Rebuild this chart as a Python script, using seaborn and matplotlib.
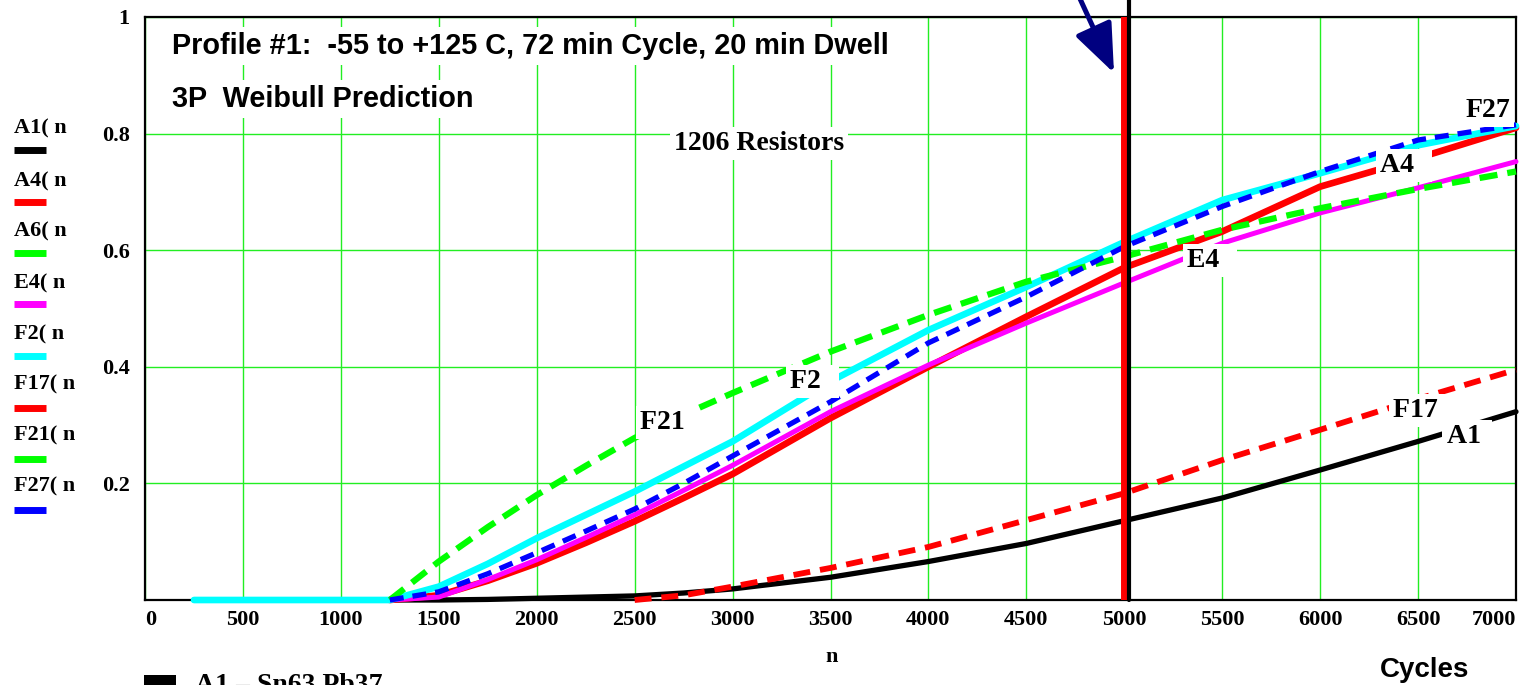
import numpy as np
import pandas as pd
import matplotlib
matplotlib.use("Agg")
import matplotlib.pyplot as plt
from matplotlib.lines import Line2D
from matplotlib.patches import Rectangle
import seaborn as sns

# ---------------- data ----------------
cycles = [250, 1250, 1500, 1750, 2000, 2250, 2500, 2750, 3000, 3500, 4000, 4500, 5000, 5500, 6000, 6500, 7000]
nan = np.nan
a1 = [nan, 0.000, 0.000, 0.001, 0.003, 0.005, 0.007, 0.012, 0.019, 0.039, 0.066, 0.097, 0.136, 0.175, 0.223, 0.272, 0.323]
a4 = [nan, 0.000, 0.008, 0.033, 0.063, 0.098, 0.135, 0.175, 0.216, 0.312, 0.400, 0.486, 0.570, 0.632, 0.709, 0.758, 0.810]
a6 = [nan] * 17  # listed in the legend, no visible curve
e4 = [nan, 0.000, 0.005, 0.035, 0.069, 0.107, 0.146, 0.188, 0.231, 0.323, 0.403, 0.475, 0.544, 0.612, 0.664, 0.707, 0.752]
f2 = [0.000, 0.000, 0.023, 0.062, 0.106, 0.146, 0.186, 0.229, 0.272, 0.375, 0.463, 0.537, 0.614, 0.686, 0.732, 0.780, 0.813]
f17 = [nan, nan, nan, nan, nan, nan, 0.000, 0.008, 0.023, 0.055, 0.091, 0.137, 0.183, 0.240, 0.292, 0.345, 0.395]
f21 = [nan, 0.000, 0.066, 0.125, 0.180, 0.230, 0.278, 0.318, 0.355, 0.426, 0.489, 0.546, 0.589, 0.635, 0.672, 0.705, 0.735]
f27 = [nan, 0.000, 0.014, 0.045, 0.081, 0.118, 0.156, 0.200, 0.247, 0.340, 0.441, 0.520, 0.606, 0.675, 0.735, 0.789, 0.815]

series_names = ["A1", "A4", "A6", "E4", "F2", "F17", "F21", "F27"]
series_values = [a1, a4, a6, e4, f2, f17, f21, f27]
legend_labels = ["A1( n", "A4( n", "A6( n", "E4( n", "F2( n", "F17( n", "F21( n", "F27( n"]

x_ticks = [0, 500, 1000, 1500, 2000, 2500, 3000, 3500, 4000, 4500, 5000, 5500, 6000, 6500, 7000]
y_ticks = [0.2, 0.4, 0.6, 0.8, 1.0]
y_tick_labels = ["0.2", "0.4", "0.6", "0.8", "1"]

curve_label_text = ["F27", "A4  ", "E4  ", "F2  ", "F21 ", "F17 ", "A1 "]
curve_label_x = [6742, 6306, 5319, 3293, 2527, 6372, 6646]
curve_label_y = [0.8285, 0.7346, 0.5717, 0.3636, 0.2933, 0.3144, 0.2693]

marker_cycle_red = 5000
marker_cycle_black = 5025

# ---------------- style ----------------
colors = ["#000000", "#ff0000", "#00ff00", "#ff00ff", "#00ffff", "#ff0000", "#00ff00", "#0000ff"]
widths = [3.8, 4.8, 4.8, 3.6, 4.8, 4.2, 4.5, 3.8]
dashes = [None, None, None, None, None, (2.9, 1.7), (2.9, 1.6), (2.65, 1.7)]

W, H = 1524, 685
DPI = 100

sns.set_style("white")
plt.rcParams["font.family"] = ["Liberation Serif", "DejaVu Serif"]
plt.rcParams["font.weight"] = "bold"
for key in ("text.color", "axes.labelcolor", "xtick.color", "ytick.color"):
    plt.rcParams[key] = "black"

fig = plt.figure(figsize=(W / DPI, H / DPI), dpi=DPI)
ax = fig.add_axes([145 / W, (H - 600) / H, (1516 - 145) / W, 583 / H])


def fp(px, py):
    return px / W, 1 - py / H


for name, vals, c, lw, dsh in zip(series_names, series_values, colors, widths, dashes):
    d = pd.DataFrame({"cycles": cycles, "frac": vals}).dropna()
    if d.empty:
        continue
    sns.lineplot(data=d, x="cycles", y="frac", ax=ax, color=c, lw=lw,
                 estimator=None, sort=False, clip_on=False, zorder=3)
    ln = ax.lines[-1]
    if dsh is not None:
        ln.set_dashes(dsh)
        ln.set_dash_capstyle("butt")

# vertical markers
ax.axvline(marker_cycle_red, ymin=0, ymax=1, color="#ff0000", lw=5, zorder=4)
ax.axvline(marker_cycle_black, ymin=0, ymax=1.06, color="#000000", lw=3, zorder=4, clip_on=False)

ax.set_xlim(0, 7000)
ax.set_ylim(0, 1)
ax.set_xticks(x_ticks)
ax.set_xticklabels([str(v) for v in x_ticks])
ax.set_yticks(y_ticks)
ax.set_yticklabels(y_tick_labels)
ax.set_xlabel("")
ax.set_ylabel("")
ax.grid(True, color="#22ee22", lw=1.0)
ax.set_axisbelow(True)
ax.tick_params(axis="both", length=0, labelsize=16, labelcolor="black")
ax.tick_params(axis="x", pad=7)
ax.tick_params(axis="y", pad=11)
for lab in ax.get_xticklabels() + ax.get_yticklabels():
    lab.set_fontweight("bold")
xl = ax.get_xticklabels()
xl[0].set_ha("left")
xl[-1].set_ha("right")
for s in ax.spines.values():
    s.set_visible(True)
    s.set_color("black")
    s.set_linewidth(1.6)

# curve labels
for t, x, y in zip(curve_label_text, curve_label_x, curve_label_y):
    ax.text(x, y, t, fontsize=20, fontweight="bold", ha="left", va="baseline", color="black",
            bbox=dict(fc="white", ec="none", pad=3), zorder=10)

# titles in the plot area
fig.text(*fp(172, 54), "Profile #1:  -55 to +125 C, 72 min Cycle, 20 min Dwell",
         family="Liberation Sans", fontweight="bold", fontsize=20.8, va="baseline",
         bbox=dict(fc="white", ec="none", pad=4))
fig.text(*fp(172, 107), "3P  Weibull Prediction",
         family="Liberation Sans", fontweight="bold", fontsize=20.8, va="baseline",
         bbox=dict(fc="white", ec="none", pad=4))
fig.text(*fp(674, 150), "1206 Resistors", fontsize=20, fontweight="bold", va="baseline",
         bbox=dict(fc="white", ec="none", pad=3))

# arrow pointing at the marker line
ax.annotate("", xy=(1114, H - 73), xycoords="figure pixels",
            xytext=(1076, H + 10), textcoords="figure pixels",
            arrowprops=dict(arrowstyle="-|>,head_length=0.6,head_width=0.24",
                            mutation_scale=50, color="#000080", lw=3.6,
                            shrinkA=0, shrinkB=0),
            annotation_clip=False)

# white block partly hiding the lower y tick labels (as in the reference)
fig.add_artist(Rectangle(fp(0, 500), 104 / W, 148 / H, transform=fig.transFigure,
                         fc="white", ec="none", zorder=2))

# left-side legend (text above the line sample)
text_base = [133.8, 186.4, 236.8, 288.2, 339.0, 389.5, 440.8, 491.2]
sample_y = [150.4, 201.8, 253.0, 304.0, 355.7, 408.0, 458.8, 509.6]
for lab, tb, sy, c, lw, dsh in zip(legend_labels, text_base, sample_y, colors, widths, dashes):
    fig.text(*fp(14, tb), lab, fontsize=16, fontweight="bold", va="baseline", zorder=5)
    x0, y0 = fp(14, sy)
    x1, _ = fp(46, sy)
    ln = Line2D([x0, x1], [y0, y0], transform=fig.transFigure, color=c, lw=5, zorder=5,
                solid_capstyle="butt")
    if dsh is not None:
        ln.set_dashes((17 / 3.6, 9 / 3.6))
        ln.set_dash_capstyle("butt")
    fig.add_artist(ln)

# axis captions
fig.text(*fp(832, 662), "n", fontsize=16, fontweight="bold", ha="center", va="baseline")
fig.text(*fp(1425, 677), "Cycles", family="Liberation Sans", fontweight="bold",
         fontsize=20, ha="center", va="baseline")

# bottom legend entry (cut by the figure edge, as in the reference)
fig.add_artist(Rectangle(fp(144, 700), 32 / W, 25 / H, transform=fig.transFigure,
                         fc="black", ec="none"))
fig.text(*fp(195, 692), "A1 \u2013 Sn63 Pb37", fontsize=20, fontweight="bold", va="baseline")

fig.savefig("out.png", dpi=DPI)
